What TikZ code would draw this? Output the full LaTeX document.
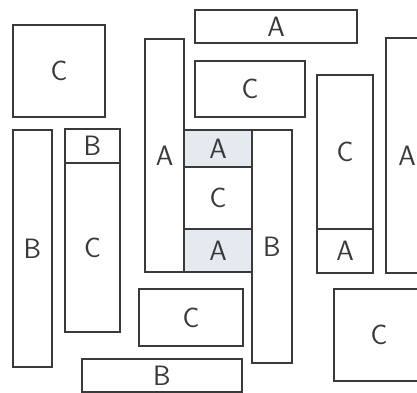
\documentclass[tikz,border=0pt]{standalone}
\usepackage{tikz}
\usepackage{xcolor}
\usetikzlibrary{positioning}
\definecolor{skink}{HTML}{3A3A3A}
\definecolor{skshade}{HTML}{E4EAF0}

\begin{document}
\begin{tikzpicture}[x=1pt, y=-1pt, font=\fontsize{28}{32}\selectfont\sffamily,
  node distance=0pt,
  slab/.style={draw=skink, line width=1.4pt, inner sep=0pt, outer sep=0pt,
               text=skink, anchor=north west},
  shaded/.style={slab, fill=skshade}]
\useasboundingbox (0,0) rectangle (417,392);
\clip (0,0) rectangle (417,392);
% left column
\node[slab, minimum width=92pt, minimum height=92pt] (ctl) at (13,25) {C};
\node[slab, minimum width=39pt, minimum height=237pt] (bleft) at (13,130) {B};
\node[slab, minimum width=55pt, minimum height=34pt] (btop) at (65,129) {B};
\node[slab, minimum width=55pt, minimum height=169pt, below=of btop] (cmid) {C};
% middle
\node[slab, minimum width=39pt, minimum height=233pt] (atall) at (145,39) {A};
\node[slab, minimum width=162pt, minimum height=33pt] (atop) at (195,10) {A};
\node[slab, minimum width=110pt, minimum height=56pt] (cupper) at (195,61) {C};
\node[shaded, minimum width=68pt, minimum height=37pt] (aup) at (184,130) {A};
\node[slab, minimum width=68pt, minimum height=62pt, below=of aup] (ccen) {C};
\node[shaded, minimum width=68pt, minimum height=43pt, below=of ccen] (alow) {A};
\node[slab, minimum width=40pt, minimum height=233pt] (btall) at (252,130) {B};
% right
\node[slab, minimum width=56pt, minimum height=154pt] (cright) at (317,75) {C};
\node[slab, minimum width=56pt, minimum height=44pt, below=of cright] (aright) {A};
\node[slab, minimum width=42pt, minimum height=235pt] (afar) at (386,38) {A};
% bottom
\node[slab, minimum width=104pt, minimum height=57pt] (clow) at (139,289) {C};
\node[slab, minimum width=160pt, minimum height=33pt] (bbot) at (82,359) {B};
\node[slab, minimum width=90pt, minimum height=92pt] (cbr) at (334,289) {C};
\end{tikzpicture}
\end{document}
